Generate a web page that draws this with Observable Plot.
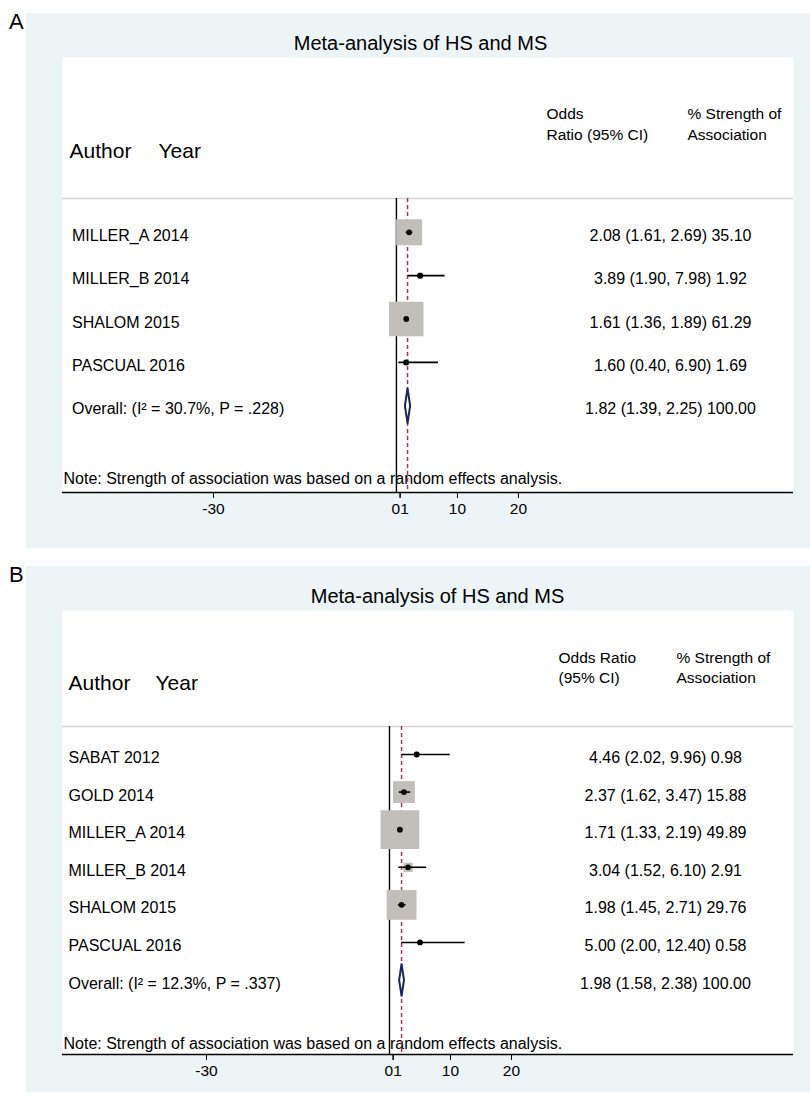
<!DOCTYPE html>
<html>
<head>
<meta charset="utf-8">
<script src="https://cdn.jsdelivr.net/npm/d3@7"></script>
<script src="https://cdn.jsdelivr.net/npm/@observablehq/plot@0.6"></script>
<style>
  body { margin: 0; background: #ffffff; font-family: "Liberation Sans", Arial, Helvetica, sans-serif; }
  #page { position: relative; width: 810px; height: 1104px; overflow: hidden; background: #fff; }
  .panel { position: absolute; left: 26px; }
  .lab { position: absolute; left: 9px; font-size: 22px; line-height: 25px; color: #000; }
</style>
</head>
<body>
<div id="page">
  <div class="lab" style="top:9px">A</div>
  <div class="lab" style="top:562px">B</div>
  <div id="pA" class="panel" style="top:13px"></div>
  <div id="pB" class="panel" style="top:566px"></div>
</div>
<script>
// ---------- Data: panel A ----------
const titleA = "Meta-analysis of HS and MS";
const studiesA = ["MILLER_A 2014", "MILLER_B 2014", "SHALOM 2015", "PASCUAL 2016"];
const orA = [2.08, 3.89, 1.61, 1.60];
const loA = [1.61, 1.90, 1.36, 0.40];
const hiA = [2.69, 7.98, 1.89, 6.90];
const wA  = [35.10, 1.92, 61.29, 1.69];
const overallA = [1.82, 1.39, 2.25, 100.00]; // OR, lo, hi, weight
const hetA = ["30.7%", ".228"];
const headA = ["Odds\nRatio (95% CI)", "% Strength of\nAssociation"];

// ---------- Data: panel B ----------
const titleB = "Meta-analysis of HS and MS";
const studiesB = ["SABAT 2012", "GOLD 2014", "MILLER_A 2014", "MILLER_B 2014", "SHALOM 2015", "PASCUAL 2016"];
const orB = [4.46, 2.37, 1.71, 3.04, 1.98, 5.00];
const loB = [2.02, 1.62, 1.33, 1.52, 1.45, 2.00];
const hiB = [9.96, 3.47, 2.19, 6.10, 2.71, 12.40];
const wB  = [0.98, 15.88, 49.89, 2.91, 29.76, 0.58];
const overallB = [1.98, 1.58, 2.38, 100.00];
const hetB = ["12.3%", ".337"];
const headB = ["Odds Ratio\n(95% CI)", "% Strength of\nAssociation"];

// ---------- Shared ----------
const xTicks = [-30, 0, 1, 10, 20];
const noteText = "Note: Strength of association was based on a random effects analysis.";
const FONT = "'Liberation Sans', Arial, Helvetica, sans-serif";

function forest(el, d, L) {
  const rows = d.studies.map((s, i) => ({label: s, i, or: d.or[i], lo: d.lo[i], hi: d.hi[i], w: d.w[i]}));
  const n = rows.length;
  const ov = {label: `Overall: (I\u00B2 = ${d.het[0]}, P = ${d.het[1]})`, i: n,
              or: d.overall[0], lo: d.overall[1], hi: d.overall[2], w: d.overall[3]};
  const all = [...rows, ov];
  const fmt = r => `${r.or.toFixed(2)} (${r.lo.toFixed(2)}, ${r.hi.toFixed(2)}) ${r.w.toFixed(2)}`;
  const dh = L.dh;
  const diamond = [
    {x: ov.lo, y: n}, {x: ov.or, y: n - dh}, {x: ov.hi, y: n}, {x: ov.or, y: n + dh}, {x: ov.lo, y: n}
  ];
  const yBot = L.ydom[1];
  const axisOpts = {tickSize: 6, tickPadding: 4, tickFormat: v => String(v), label: null, fontSize: 15.5};

  const chart = Plot.plot({
    width: 784, height: L.height,
    marginLeft: 36, marginRight: 17, marginTop: 44, marginBottom: L.mb,
    style: {fontFamily: FONT, fontSize: "16px", color: "#000", background: "#edf4f5", overflow: "visible"},
    x: {domain: L.xdom, label: null},
    y: {domain: L.ydom, reverse: true, axis: null},
    r: {type: "sqrt", domain: [0, 100], range: [0, L.R]},
    marks: [
      Plot.frame({fill: "white", stroke: null}),
      // title
      Plot.text([d.title], {text: t => t, frameAnchor: "top", dx: L.titleDx, dy: -8, lineAnchor: "bottom", fontSize: 20}),
      // header
      Plot.text(["Author"], {text: t => t, frameAnchor: "top-left", dx: L.authDx, dy: L.authDy, textAnchor: "start", lineAnchor: "bottom", fontSize: 21}),
      Plot.text(["Year"], {text: t => t, frameAnchor: "top-left", dx: L.yearDx, dy: L.authDy, textAnchor: "start", lineAnchor: "bottom", fontSize: 21}),
      Plot.text([d.head[0]], {text: t => t, frameAnchor: "top-right", dx: L.h1Dx, dy: L.hDy, textAnchor: "start", lineAnchor: "bottom", lineHeight: L.lh, fontSize: 15.5}),
      Plot.text([d.head[1]], {text: t => t, frameAnchor: "top-right", dx: L.h2Dx, dy: L.hDy, textAnchor: "start", lineAnchor: "bottom", lineHeight: L.lh, fontSize: 15.5}),
      Plot.ruleY([L.sep], {stroke: "#d2d2d0", strokeWidth: 1.5}),
      // note
      Plot.text([noteText], {text: t => t, frameAnchor: "bottom-left", dx: 1, dy: L.noteDy, textAnchor: "start", lineAnchor: "bottom"}),
      // row labels and values
      Plot.text(all, {y: "i", text: "label", frameAnchor: "left", dx: L.labDx, dy: 3.5, textAnchor: "start", lineAnchor: "middle"}),
      Plot.text(all, {y: "i", text: fmt, frameAnchor: "right", dx: L.valDx, dy: 3.5, textAnchor: "middle", lineAnchor: "middle"}),
      // reference lines
      Plot.ruleX([0], {y1: L.sep, y2: yBot, stroke: "#000", strokeWidth: 1.4}),
      Plot.ruleX([ov.or], {y1: L.sep, y2: yBot, stroke: "#9b3b5c", strokeWidth: 1.5, strokeDasharray: "4,3"}),
      // study weight boxes, CIs, points
      Plot.dot(rows, {x: "or", y: "i", r: "w", symbol: "square", fill: "#c2bfba", stroke: null}),
      Plot.ruleY(rows, {y: "i", x1: "lo", x2: "hi", stroke: "#000", strokeWidth: 1.6}),
      Plot.dot(rows, {x: "or", y: "i", r: 2.9, fill: "#000", stroke: null}),
      // overall diamond
      Plot.line(diamond, {x: "x", y: "y", stroke: "#1a2466", strokeWidth: 2, fill: "white", curve: "linear"}),
      // axis baseline and ticks
      Plot.ruleY([yBot], {stroke: "#000", strokeWidth: 1.5}),
      Plot.axisX(xTicks.filter(t => t !== 0 && t !== 1), axisOpts),
      Plot.axisX(xTicks.filter(t => t === 0), {...axisOpts, textAnchor: "end", dx: 3.6}),
      Plot.axisX(xTicks.filter(t => t === 1), {...axisOpts, textAnchor: "start", dx: -2.4})
    ]
  });
  el.appendChild(chart);
}

forest(document.getElementById("pA"),
  {title: titleA, studies: studiesA, or: orA, lo: loA, hi: hiA, w: wA, overall: overallA, het: hetA, head: headA},
  {height: 535, mb: 56, xdom: [-54.75, 65.1], ydom: [-4.03, 6.0], sep: -0.78, R: 24.8, dh: 0.4,
   titleDx: -7.5, authDx: 7, yearDx: 96, authDy: 100, h1Dx: -247, h2Dx: -106, hDy: 82, lh: 1.355,
   labDx: 9.5, valDx: -123, noteDy: -9});

forest(document.getElementById("pB"),
  {title: titleB, studies: studiesB, or: orB, lo: loB, hi: hiB, w: wB, overall: overallB, het: hetB, head: headB},
  {height: 526, mb: 38, xdom: [-53.6, 66.23], ydom: [-3.83, 7.98], sep: -0.745, R: 30.9, dh: 0.42,
   titleDx: 9.5, authDx: 6, yearDx: 93, authDy: 79, h1Dx: -235, h2Dx: -117, hDy: 72, lh: 1.29,
   labDx: 6, valDx: -128, noteDy: -6});
</script>
</body>
</html>
